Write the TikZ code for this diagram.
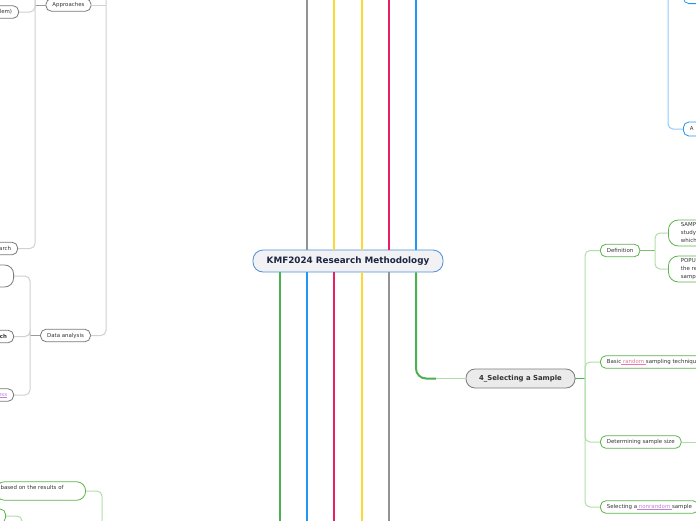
\documentclass[tikz,border=0pt]{standalone}
\usepackage{fontspec}
\setmainfont{DejaVu Sans}
\definecolor{cgray}{HTML}{929292}
\definecolor{cyel}{HTML}{FDD835}
\definecolor{cpink}{HTML}{E91E63}
\definecolor{cblue}{HTML}{2196F3}
\definecolor{cgreen}{HTML}{4CAF50}
\definecolor{lgreen}{HTML}{B2DDAA}
\definecolor{mgreen}{HTML}{7CC46C}
\definecolor{lgray}{HTML}{D0D0D0}
\definecolor{mgray}{HTML}{9A9A9A}
\definecolor{lblue}{HTML}{90CAF9}
\definecolor{nodegray}{HTML}{7A7A7A}
\definecolor{nodegreen}{HTML}{5DB34C}
\definecolor{rootblue}{HTML}{4A90D9}
\definecolor{rootfill}{HTML}{F2F1F4}
\definecolor{navy}{HTML}{1B2541}
\definecolor{txt}{HTML}{333333}
\definecolor{linkpink}{HTML}{E879A8}
\definecolor{linkpurple}{HTML}{C07FD8}
\newcommand\myuline[1]{\setbox0\hbox{#1}\rlap{\rule[-0.9pt]{\wd0}{0.35pt}}\box0}
\newcommand\myrnd[1]{\textcolor{linkpink}{\myuline{#1}}}
\newcommand\mylnk[1]{\textcolor{linkpurple}{\myuline{#1}}}
\tikzset{
  trunk/.style={line width=2pt},
  sub/.style={line width=1pt, rounded corners=5pt},
  leafbox/.style={draw=#1, line width=0.8pt, fill=white, rounded corners=5.5pt,
    font=\fontsize{5.45}{6.8}\selectfont, text=txt, inner xsep=6.5pt, inner ysep=1pt,
    minimum height=12.5pt},
  bigbox/.style={draw=#1, line width=0.8pt, fill=white, rounded corners=10pt,
    font=\fontsize{5.45}{8}\selectfont, text=txt, inner xsep=12.5pt, inner ysep=1pt,
    minimum height=26pt, align=left, anchor=west},
  rootbox/.style={draw=rootblue, line width=0.8pt, fill=rootfill, rounded corners=10pt,
    minimum width=190pt, minimum height=22pt, text=navy,
    font=\bfseries\fontsize{8.8}{10}\selectfont},
  selbox/.style={draw=nodegray, line width=0.8pt, fill=black!8, rounded corners=9pt,
    minimum width=109pt, minimum height=19pt, text=txt,
    font=\bfseries\fontsize{6.9}{8}\selectfont}
}
\begin{document}
\begin{tikzpicture}[x=1pt,y=-1pt]
\useasboundingbox (0,0) rectangle (696,520);
\clip (0,0) rectangle (696,520);

% ---------- root and trunks
\node[rootbox] (root) at (348,261) {KMF2024 Research Methodology};
\coordinate (u1) at (307,-5);
\coordinate (u2) at (334,-5);
\coordinate (u3) at (362,-5);
\coordinate (u4) at (389,-5);
\coordinate (u5) at (416,-5);
\draw[trunk,cgray] (root.north -| u1) -- (u1);
\draw[trunk,cyel] (root.north -| u2) -- (u2);
\draw[trunk,cyel] (root.north -| u3) -- (u3);
\draw[trunk,cpink] (root.north -| u4) -- (u4);
\draw[trunk,cblue] (root.north -| u5) -- (u5);
\coordinate (d1) at (280,525);
\coordinate (d2) at (307,525);
\coordinate (d3) at (334,525);
\coordinate (d4) at (362,525);
\coordinate (d5) at (389,525);
\draw[trunk,cgreen] (root.south -| d1) -- (d1);
\draw[trunk,cblue] (root.south -| d2) -- (d2);
\draw[trunk,cpink] (root.south -| d3) -- (d3);
\draw[trunk,cyel] (root.south -| d4) -- (d4);
\draw[trunk,cgray] (root.south -| d5) -- (d5);

% ---------- 4_Selecting a Sample
\node[selbox] (sel) at (520.5,378.5) {4\_Selecting a Sample};
\coordinate (gx) at (416,0);
\coordinate (gturn) at (436,378.5);
\draw[trunk,cgreen,rounded corners=10pt] (root.south -| gx) |- (gturn);
\draw[line width=1.5pt,lgreen] (gturn) -- (sel.west);
\coordinate (sx) at (585,378.5);
\draw[line width=1.3pt,cgreen] (sel.east) -- (sx);

\node[leafbox=nodegreen, anchor=west] (defn) at (600,250.5) {Definition};
\node[leafbox=nodegreen, anchor=west] (basic) at (600,362) {Basic\myrnd{ random }sampling techniques};
\node[leafbox=nodegreen, anchor=west] (detsz) at (600,442) {Determining sample size};
\node[leafbox=nodegreen, anchor=west] (nonr) at (600,507) {Selecting a\mylnk{ nonrandom }sample};
\draw[sub,lgreen] (sx) |- (defn.west);
\draw[sub,lgreen] (sx) |- (basic.west);
\draw[sub,lgreen] (sx) |- (detsz.west);
\draw[sub,lgreen] (sx) |- (nonr.west);
\coordinate (detout) at (700,442);
\draw[sub,lgreen] (detsz.east) -- (detout);

\node[bigbox=nodegreen, text width=60pt] (samp) at (668,233) {SAMPLE\\study\\which};
\node[bigbox=nodegreen, text width=60pt] (popu) at (668,269) {POPULATION\\the research\\sample};
\coordinate (dfx) at (655,250.5);
\draw[line width=1.2pt,mgreen] (defn.east) -- (dfx);
\draw[sub,lgreen] (dfx) |- (samp.west);
\draw[sub,lgreen] (dfx) |- (popu.west);

% ---------- top right (blue)
\node[leafbox=cblue, anchor=west, minimum height=14pt, text width=40pt, align=left] (anode) at (683,129) {A};
\node[leafbox=cblue, anchor=south west, minimum height=14pt, minimum width=40pt] (topn) at (683,4) {};
\coordinate (bx) at (668,-10);
\draw[sub,lblue] (bx) |- (anode.west);

% ---------- left side (gray)
\node[leafbox=nodegray] (appr) at (68.5,5) {Approaches};
\node[leafbox=nodegray, anchor=east] (lem) at (19,12) {(research problem)};
\node[leafbox=nodegray, anchor=east] (arch) at (18,248.5) {Qualitative research};
\node[leafbox=nodegray] (dana) at (65.5,335.5) {Data analysis};
\node[leafbox=nodegray, anchor=east, minimum height=22pt, minimum width=60pt, rounded corners=9pt] (dn1) at (14,276) {};
\node[leafbox=nodegray, anchor=east] (dn2) at (14,336.5) {\textbf{Quantitative approach}};
\node[leafbox=nodegray, anchor=east] (dn3) at (14,395) {\mylnk{Process}};

\coordinate (lx) at (106,-10);
\draw[sub,lgray] (lx) |- (dana.east);
\draw[line width=1pt,lgray] (appr.east) -- (appr.east -| lx);
\coordinate (ax) at (35,-10);
\draw[line width=1pt,mgray] (appr.west) -- (appr.west -| ax);
\draw[sub,lgray] (ax) |- (lem.east);
\draw[sub,lgray] (ax) |- (arch.east);
\coordinate (dax) at (30,335.5);
\draw[line width=1pt,mgray] (dana.west) -- (dax);
\draw[sub,lgray] (dax) |- (dn1.east);
\draw[sub,lgray] (dax) |- (dn2.east);
\draw[sub,lgray] (dax) |- (dn3.east);

% ---------- bottom left (green)
\node[leafbox=nodegreen, anchor=east, text width=80pt, align=left, inner xsep=5pt,
      minimum height=18.5pt, rounded corners=9pt, font=\fontsize{5.45}{7.5}\selectfont] (concl) at (86,491)
      {based on the results of\\\mbox{}};
\node[leafbox=nodegreen, anchor=east, minimum height=14pt, minimum width=40pt] (bl2) at (6,516) {};
\coordinate (cx) at (102,525);
\draw[sub,lgreen] (concl.east) -| (cx);
\coordinate (cx2) at (22,525);
\draw[sub,lgreen] (bl2.east) -| (cx2);
\end{tikzpicture}
\end{document}
